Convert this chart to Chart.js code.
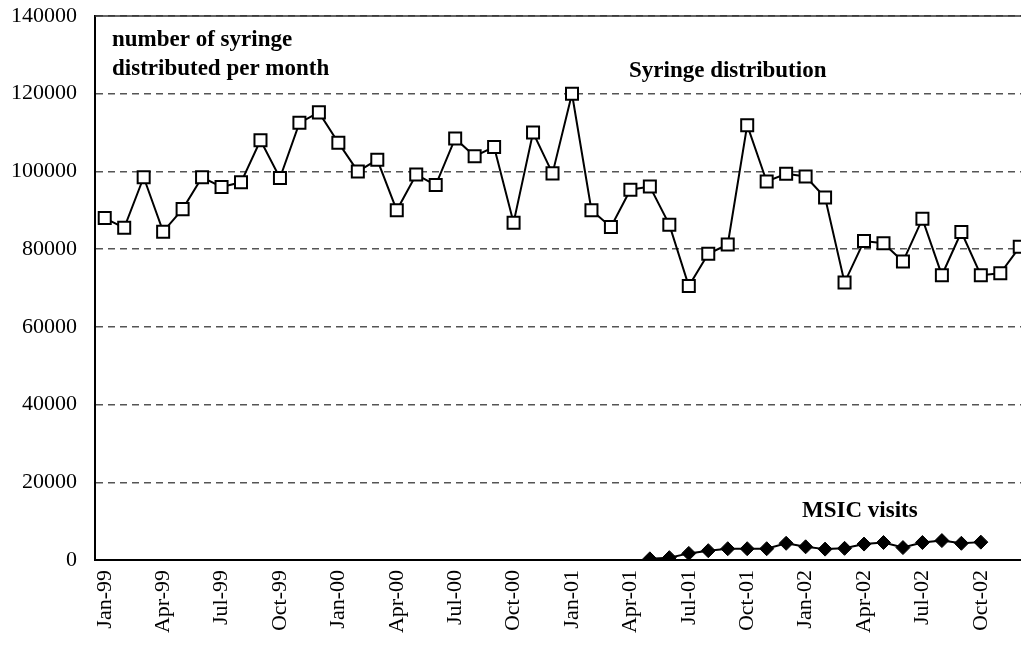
<!DOCTYPE html>
<html>
<head>
<meta charset="utf-8">
<script src="https://cdn.jsdelivr.net/npm/chart.js@4/dist/chart.umd.min.js"></script>
<style>
  html, body { margin: 0; padding: 0; background: #fff; overflow: hidden; }
  #wrap { width: 1040px; height: 646px; }
</style>
</head>
<body>
<div id="wrap"><canvas id="chart" width="1040" height="646"></canvas></div>
<script>
// months Jan-99 .. Dec-02
const monthNames = ["Jan", "Feb", "Mar", "Apr", "May", "Jun", "Jul", "Aug", "Sep", "Oct", "Nov", "Dec"];
const years = ["99", "00", "01", "02"];
const months = [];
years.forEach((y) => monthNames.forEach((m) => months.push(m + "-" + y)));

// syringes distributed per month
const syringes = [
  88000, 85500, 98500, 84500, 90300, 98500, 96000, 97200, 108000, 98300, 112500, 115200,
  107400, 100000, 103000, 90000, 99200, 96500, 108500, 103900, 106300, 86800, 110000, 99500,
  120000, 90000, 85700, 95300, 96100, 86300, 70500, 78800, 81200, 111900, 97400, 99400,
  98700, 93300, 71400, 82100, 81500, 76800, 87800, 73300, 84400, 73300, 73800, 80600,
];

// MSIC visits per month (opened May-01)
const msicVisits = [
  null, null, null, null, null, null, null, null, null, null, null, null,
  null, null, null, null, null, null, null, null, null, null, null, null,
  null, null, null, null, 300, 600, 1700, 2400, 2900, 2900, 2900, 4300,
  3400, 2800, 3000, 4100, 4500, 3200, 4500, 5000, 4300, 4600, null, null,
];

const yTicks = [0, 20000, 40000, 60000, 80000, 100000, 120000, 140000];

const serif = "'Liberation Serif', 'Times New Roman', serif";

// text labels inside the plot + top frame line
const annotations = {
  id: "annotations",
  afterDraw(chart) {
    const { ctx, chartArea } = chart;
    ctx.save();
    ctx.strokeStyle = "#333";
    ctx.lineWidth = 1.5;
    ctx.beginPath();
    ctx.moveTo(chartArea.left, chartArea.top);
    ctx.lineTo(chartArea.right, chartArea.top);
    ctx.stroke();

    ctx.fillStyle = "#000";
    ctx.font = "bold 23px " + serif;
    ctx.textBaseline = "alphabetic";
    ctx.textAlign = "left";
    ctx.fillText("number of syringe", 112, 46);
    ctx.fillText("distributed per month", 112, 75);
    ctx.fillText("Syringe distribution", 629, 77);
    ctx.fillText("MSIC visits", 802, 517);
    ctx.restore();
  },
};

new Chart(document.getElementById("chart"), {
  type: "line",
  data: {
    labels: months,
    datasets: [
      {
        label: "Syringe distribution",
        data: syringes,
        borderColor: "#000",
        borderWidth: 2,
        pointStyle: "rect",
        pointRadius: 8.5,
        pointBackgroundColor: "#fff",
        pointBorderColor: "#000",
        pointBorderWidth: 2,
        tension: 0,
      },
      {
        label: "MSIC visits",
        data: msicVisits,
        borderColor: "#000",
        borderWidth: 2,
        pointStyle: "rectRot",
        pointRadius: 7,
        pointBackgroundColor: "#000",
        pointBorderColor: "#000",
        pointBorderWidth: 1,
        tension: 0,
        spanGaps: false,
      },
    ],
  },
  options: {
    responsive: false,
    animation: false,
    layout: { padding: { top: 16, right: 8, left: 0, bottom: 0 } },
    plugins: {
      legend: { display: false },
      tooltip: { enabled: false },
    },
    scales: {
      x: {
        type: "category",
        offset: true,
        grid: { display: false, drawTicks: false },
        border: { color: "#000", width: 2 },
        afterFit: (s) => {
          s.height = 86;
          s.paddingLeft = 0;
          s.paddingRight = 0;
        },
        ticks: {
          autoSkip: false,
          minRotation: 90,
          maxRotation: 90,
          padding: 10,
          color: "#000",
          font: { family: serif, size: 22 },
          callback: function (v, i) {
            return i % 3 === 0 ? this.getLabelForValue(v) : "";
          },
        },
      },
      y: {
        min: 0,
        max: 140000,
        afterFit: (s) => {
          s.width = 95;
          s.paddingTop = 0;
          s.paddingBottom = 0;
        },
        afterBuildTicks: (s) => { s.ticks = yTicks.map((v) => ({ value: v })); },
        grid: {
          drawTicks: false,
          color: (c) => (c.tick && c.tick.value === 0 ? "rgba(0,0,0,0)" : "#555"),
          lineWidth: 1.5,
        },
        border: { color: "#000", width: 2, dash: [7, 5] },
        ticks: {
          padding: 18,
          color: "#000",
          font: { family: serif, size: 22 },
          callback: (v) => String(v),
        },
      },
    },
  },
  plugins: [annotations],
});
</script>
</body>
</html>
